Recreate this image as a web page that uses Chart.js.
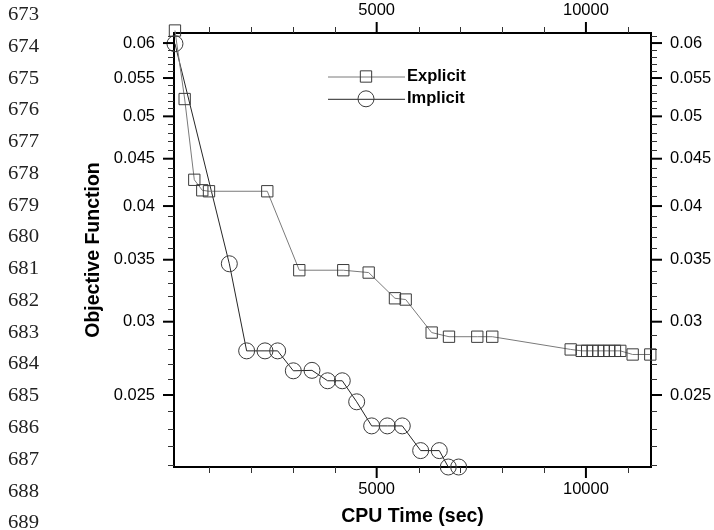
<!DOCTYPE html>
<html><head><meta charset="utf-8">
<script src="https://cdn.jsdelivr.net/npm/chart.js@4.4.1/dist/chart.umd.min.js"></script>
<style>
html,body{margin:0;padding:0;background:#fff;}
#wrap{position:relative;width:714px;height:530px;overflow:hidden;}
canvas{position:absolute;left:0;top:0;}
.ln{position:absolute;left:8px;font-family:"Liberation Serif","Times New Roman",serif;font-size:18.5px;line-height:20px;height:20px;color:#222;transform:scaleX(1.12);transform-origin:left center;}
</style></head>
<body><div id="wrap"><canvas id="c" width="714" height="530"></canvas></div>
<script>
// ---- data ----
const lineNumbers = ['673','674','675','676','677','678','679','680','681','682','683','684','685','686','687','688','689'];

const explicitTime = [180, 412, 642, 833, 993, 2386, 3151, 4202, 4809, 5437, 5693, 6314, 6728, 7404, 7762,
  9636, 9898, 10030, 10160, 10295, 10424, 10558, 10694, 10821, 11117, 11538];
const explicitObj = [0.0619, 0.0522, 0.0427, 0.0416, 0.0415, 0.0415, 0.0341, 0.0341, 0.0339, 0.0318, 0.0317,
  0.0292, 0.0289, 0.0289, 0.0289, 0.0280, 0.0279, 0.0279, 0.0279, 0.0279, 0.0279, 0.0279, 0.0279, 0.0279,
  0.02765, 0.02765];

const implicitTime = [180, 1479, 1893, 2331, 2634, 3008, 3454, 3828, 4178, 4522, 4880, 5254, 5612, 6051, 6496, 6711, 6959];
const implicitObj = [0.0599, 0.03465, 0.0279, 0.0279, 0.0279, 0.02655, 0.02658, 0.0259, 0.0259, 0.02458,
  0.02315, 0.02315, 0.02315, 0.02177, 0.02177, 0.0209, 0.0209];

const seriesNames = ['Explicit', 'Implicit'];
const xTickValues = [1000, 2000, 3000, 4000, 5000, 6000, 7000, 8000, 9000, 10000, 11000];
const xLabeled = [5000, 10000];
const yTickValues = [0.021,0.022,0.023,0.024,0.025,0.026,0.027,0.028,0.029,0.030,0.031,0.032,0.033,0.034,0.035,
  0.036,0.037,0.038,0.039,0.040,0.041,0.042,0.043,0.044,0.045,0.046,0.047,0.048,0.049,0.050,0.051,0.052,0.053,
  0.054,0.055,0.056,0.057,0.058,0.059,0.060,0.061];
const yLabeled = [0.025, 0.03, 0.035, 0.04, 0.045, 0.05, 0.055, 0.06];
const xRange = [157, 11555];
const yRange = [0.0209, 0.06152];

// ---- line numbers (margin text) ----
const wrap = document.getElementById('wrap');
lineNumbers.forEach((t, i) => {
  const d = document.createElement('div');
  d.className = 'ln';
  d.textContent = t;
  d.style.top = (14 + i * 31.77 - 10) + 'px';
  wrap.appendChild(d);
});

const SANS = '"Liberation Sans", Arial, Helvetica, sans-serif';
Chart.defaults.font.family = SANS;
Chart.defaults.color = '#000';

const isLab = (arr, v) => arr.some(l => Math.abs(l - v) < 1e-9);

const styles = [
  {line: '#7a7a7a', point: '#3a3a3a', pointStyle: 'rect'},
  {line: '#262626', point: '#3a3a3a', pointStyle: 'circle'}
];
const PR = 8;

function drawMarker(ctx, style, x, y) {
  ctx.beginPath();
  if (style === 'rect') {
    const h = PR * Math.SQRT1_2;
    ctx.rect(x - h, y - h, 2 * h, 2 * h);
  } else {
    ctx.arc(x, y, PR, 0, Math.PI * 2);
  }
  ctx.stroke();
}

const tickMarks = {
  id: 'tickMarks',
  afterDraw(chart) {
    const ctx = chart.ctx;
    const {top, bottom, left, right} = chart.chartArea;
    ctx.save();
    ['x', 'x2'].forEach(id => {
      const s = chart.scales[id];
      xTickValues.forEach(v => {
        const major = isLab(xLabeled, v);
        let px = s.getPixelForValue(v);
        ctx.lineWidth = major ? 2 : 1;
        ctx.strokeStyle = major ? '#000' : '#333';
        if (!major) px = Math.round(px) + 0.5;
        const len = major ? 11 : 6;
        ctx.beginPath();
        if (s.position === 'bottom') { ctx.moveTo(px, bottom); ctx.lineTo(px, bottom + len); }
        else { ctx.moveTo(px, top); ctx.lineTo(px, top - len); }
        ctx.stroke();
      });
    });
    ['y', 'y2'].forEach(id => {
      const s = chart.scales[id];
      yTickValues.forEach(v => {
        const major = isLab(yLabeled, v);
        let py = s.getPixelForValue(v);
        ctx.lineWidth = major ? 2 : 1;
        ctx.strokeStyle = major ? '#000' : '#333';
        if (!major) py = Math.round(py) + 0.5;
        const len = major ? 11 : 6;
        ctx.beginPath();
        if (s.position === 'left') { ctx.moveTo(left, py); ctx.lineTo(left - len, py); }
        else { ctx.moveTo(right, py); ctx.lineTo(right + len, py); }
        ctx.stroke();
      });
    });
    ctx.restore();
  }
};

const innerLegend = {
  id: 'innerLegend',
  afterDatasetsDraw(chart) {
    const ctx = chart.ctx;
    const {left, top} = chart.chartArea;
    ctx.save();
    chart.data.datasets.forEach((ds, i) => {
      const y = top + 43.5 + i * 22.3;
      const x0 = left + 154, x1 = left + 231, xm = left + 192;
      ctx.strokeStyle = styles[i].line;
      ctx.lineWidth = 1;
      ctx.beginPath(); ctx.moveTo(x0, y + 0.5); ctx.lineTo(x1, y + 0.5); ctx.stroke();
      ctx.strokeStyle = styles[i].point;
      drawMarker(ctx, styles[i].pointStyle, xm, y);
      ctx.fillStyle = '#000';
      ctx.font = 'bold 16.5px ' + SANS;
      ctx.textAlign = 'left';
      ctx.textBaseline = 'middle';
      ctx.fillText(ds.label, x1 + 2, y);
    });
    ctx.restore();
  }
};

function xScale(position) {
  return {
    type: 'linear', position, min: xRange[0], max: xRange[1],
    afterBuildTicks: s => { s.ticks = xTickValues.map(v => ({value: v})); },
    afterFit: s => { s.height = position === 'bottom' ? 63 : 33; },
    ticks: {
      autoSkip: false, maxRotation: 0, padding: 13,
      font: {size: 16.5}, color: '#000',
      callback: v => isLab(xLabeled, v) ? String(v) : ''
    },
    grid: {display: false, drawTicks: false, drawOnChartArea: false},
    border: {display: true, color: '#000', width: 2},
    title: position === 'bottom'
      ? {display: true, text: 'CPU Time (sec)', color: '#000', font: {size: 19.5, weight: 'bold'}, padding: {top: 0, bottom: 2}}
      : {display: false}
  };
}
function yScale(position) {
  return {
    type: 'logarithmic', position, min: yRange[0], max: yRange[1],
    afterBuildTicks: s => { s.ticks = yTickValues.map(v => ({value: v})); },
    afterFit: s => { s.width = position === 'left' ? 174 : 63; },
    ticks: {
      autoSkip: false, padding: 19,
      font: {size: 16.5}, color: '#000',
      callback: v => isLab(yLabeled, v) ? String(+Number(v).toFixed(3)) : ''
    },
    grid: {display: false, drawTicks: false, drawOnChartArea: false},
    border: {display: true, color: '#000', width: 2},
    title: position === 'left'
      ? {display: true, text: 'Objective Function', color: '#000', font: {size: 19.5, weight: 'bold'}, padding: {top: 82, bottom: 0}}
      : {display: false}
  };
}

function makeDataset(i, times, vals) {
  return {
    label: seriesNames[i],
    data: times.map((t, k) => ({x: t, y: vals[k]})),
    showLine: true,
    borderColor: styles[i].line,
    borderWidth: 1,
    pointStyle: styles[i].pointStyle,
    pointRadius: PR,
    pointHoverRadius: PR,
    pointBorderColor: styles[i].point,
    pointBackgroundColor: 'rgba(0,0,0,0)',
    pointBorderWidth: 1,
    tension: 0,
    clip: false,
    xAxisID: 'x', yAxisID: 'y'
  };
}

new Chart(document.getElementById('c'), {
  type: 'scatter',
  data: {
    datasets: [
      makeDataset(0, explicitTime, explicitObj),
      makeDataset(1, implicitTime, implicitObj)
    ]
  },
  options: {
    responsive: false,
    animation: false,
    events: [],
    layout: {padding: 0},
    plugins: {legend: {display: false}, tooltip: {enabled: false}},
    scales: {
      x: xScale('bottom'),
      x2: xScale('top'),
      y: yScale('left'),
      y2: yScale('right')
    }
  },
  plugins: [tickMarks, innerLegend]
});
</script>
</body></html>
